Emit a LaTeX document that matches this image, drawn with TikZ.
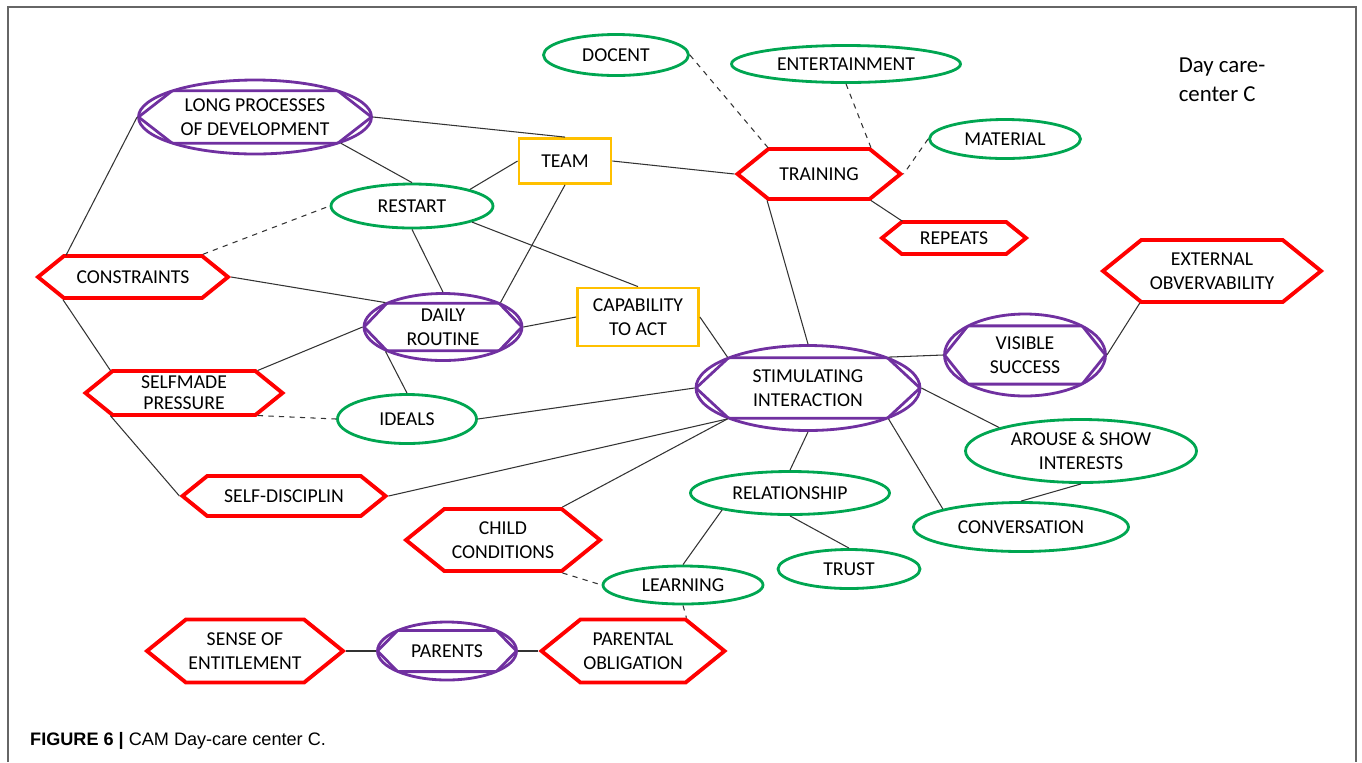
\documentclass[tikz,border=0pt]{standalone}
\usepackage{fontspec}
\setmainfont{Carlito}
\newfontfamily\capfont{Liberation Sans}
\usetikzlibrary{shapes.geometric,shapes.symbols,calc}
\definecolor{hexred}{RGB}{255,0,0}
\definecolor{ovgreen}{RGB}{0,166,81}
\definecolor{dblpurple}{RGB}{112,48,160}
\definecolor{boxgold}{RGB}{255,192,0}
\def\u{0.02cm} % 1 px
\tikzset{
  hexr/.style 2 args={signal, signal to=east and west, signal pointer angle=78,
    draw=hexred, line width=2.2pt, inner sep=0pt, align=center,
    minimum width=#1*\u, minimum height=#2*\u},
  ovg/.style 2 args={ellipse, draw=ovgreen, line width=1.6pt, inner sep=0pt, align=center,
    minimum width=#1*\u, minimum height=#2*\u},
  dblp/.style 2 args={ellipse, draw=dblpurple, line width=1.6pt, inner sep=0pt, align=center,
    minimum width=#1*\u, minimum height=#2*\u,
    path picture={\draw[dblpurple, line width=1.6pt]
      (path picture bounding box.west)
      -- ($(path picture bounding box.center)!0.71!(path picture bounding box.north west)$)
      -- ($(path picture bounding box.center)!0.71!(path picture bounding box.north east)$)
      -- (path picture bounding box.east)
      -- ($(path picture bounding box.center)!0.71!(path picture bounding box.south east)$)
      -- ($(path picture bounding box.center)!0.71!(path picture bounding box.south west)$)
      -- cycle;}},
  boxy/.style 2 args={rectangle, draw=boxgold, line width=1.6pt, inner sep=0pt, align=center,
    minimum width=#1*\u, minimum height=#2*\u},
  link/.style={black!80, line width=0.6pt},
  dlink/.style={link, dashed}
}
\begin{document}
\begin{tikzpicture}[x=0.02cm, y=-0.02cm, every node/.style={font=\fontsize{11.2}{13.6}\selectfont}]
  \useasboundingbox (0,0) rectangle (1362,762);
  \draw[black!60, line width=1.1pt] (8,762) -- (8,7) -- (1356,7) -- (1356,762);
  % concepts
  \node (long) at (255,117) [dblp={233}{74}] {LONG PROCESSES\\OF DEVELOPMENT};
  \node (restart) at (412,206) [ovg={162}{44}] {RESTART};
  \node (cons) at (133,277) [hexr={190}{42}] {CONSTRAINTS};
  \node (team) at (565,161) [boxy={92}{45}] {TEAM};
  \node (daily) at (443,327) [dblp={158}{67}] {DAILY\\ROUTINE};
  \node (cap) at (638,317) [boxy={121}{58}] {CAPABILITY\\TO ACT};
  \node (ideals) at (407,419) [ovg={139}{49}] {IDEALS};
  \node (self) at (184,393) [hexr={197}{44}, font=\fontsize{11.2}{12}\selectfont] {SELFMADE\\PRESSURE};
  \node (disc) at (284,496) [hexr={203}{40}] {SELF-DISCIPLIN};
  \node (child) at (503,540) [hexr={194}{62}] {CHILD\\CONDITIONS};
  \node (learn) at (683,585) [ovg={160}{38}] {LEARNING};
  \node (rel) at (790,493) [ovg={199}{43}] {RELATIONSHIP};
  \node (trust) at (849,569) [ovg={142}{39}] {TRUST};
  \node (stim) at (808,388) [dblp={224}{85}] {STIMULATING\\INTERACTION};
  \node (vis) at (1025,355) [dblp={161}{82}] {VISIBLE\\SUCCESS};
  \node (ext) at (1212,271) [hexr={218}{62}] {EXTERNAL\\OBVERVABILITY};
  \node (arouse) at (1081,451) [ovg={231}{63}] {AROUSE \& SHOW\\INTERESTS};
  \node (conv) at (1021,527) [ovg={215}{49}] {CONVERSATION};
  \node (train) at (819,174) [hexr={163}{50}] {TRAINING};
  \node (rep) at (954,238) [hexr={144}{32}] {REPEATS};
  \node (docent) at (616,55) [ovg={145}{41}] {DOCENT};
  \node (ent) at (846,64) [ovg={229}{37}] {ENTERTAINMENT};
  \node (mat) at (1005,139) [ovg={151}{39}] {MATERIAL};
  \node (sense) at (245,651) [hexr={196}{63}] {SENSE OF\\ENTITLEMENT};
  \node (parents) at (447,651) [dblp={139}{58}] {PARENTS};
  \node (pob) at (633,651) [hexr={183}{63}] {PARENTAL\\OBLIGATION};
  \node (title) at (1222,80) [align=left, font=\fontsize{13}{16.4}\selectfont] {Day care-\\center C};
  \node (caption) at (24,741) [anchor=west, font=\capfont\fontsize{10.3}{12}\selectfont] {\textbf{FIGURE 6 |} CAM Day-care center C.};
  % links
  \draw[link] (long.west) -- (cons.162);
  \draw[link] (long.east) -- (team.north);
  \draw[link] (long.-17) -- (restart.north);
  \draw[link] (restart.16) -- (team.west);
  \draw[link] (team.east) -- (train.west);
  \draw[link] (team.south) -- (daily.23);
  \draw[link] (restart.south) -- (daily.north);
  \draw[link] (restart.-15) -- (cap.north);
  \draw[link] (cons.east) -- (daily.157);
  \draw[link] (cons.198) -- (self.163);
  \draw[link] (self.17) -- (daily.west);
  \draw[link] (daily.203) -- (ideals.north);
  \draw[link] (daily.east) -- (cap.west);
  \draw[link] (cap.east) -- (stim.159);
  \draw[link] (ideals.east) -- (stim.west);
  \draw[link] (self.197) -- (disc.west);
  \draw[link] (disc.east) -- (stim.201);
  \draw[link] (child.29) -- (stim.201);
  \draw[link] (train.207) -- (stim.north);
  \draw[link] (train.-27) -- (rep.162);
  \draw[link] (stim.21) -- (vis.west);
  \draw[link] (vis.east) -- (ext.204);
  \draw[link] (stim.east) -- (arouse.164);
  \draw[link] (stim.-21) -- (conv.167);
  \draw[link] (arouse.south) -- (conv.north);
  \draw[link] (stim.south) -- (rel.north);
  \draw[link] (rel.194) -- (learn.north);
  \draw[link] (rel.south) -- (trust.north);
  \draw[link] (sense.east) -- (parents.west);
  \draw[link] (parents.east) -- (pob.west);
  % dashed links
  \draw[dlink] (cons.18) -- (restart.west);
  \draw[dlink] (self.-17) -- (ideals.west);
  \draw[dlink] (child.-29) -- (learn.west);
  \draw[dlink] (learn.south) -- (pob.32);
  \draw[dlink] (docent.east) -- (train.153);
  \draw[dlink] (ent.south) -- (train.27);
  \draw[dlink] (mat.west) -- (train.east);
\end{tikzpicture}
\end{document}
